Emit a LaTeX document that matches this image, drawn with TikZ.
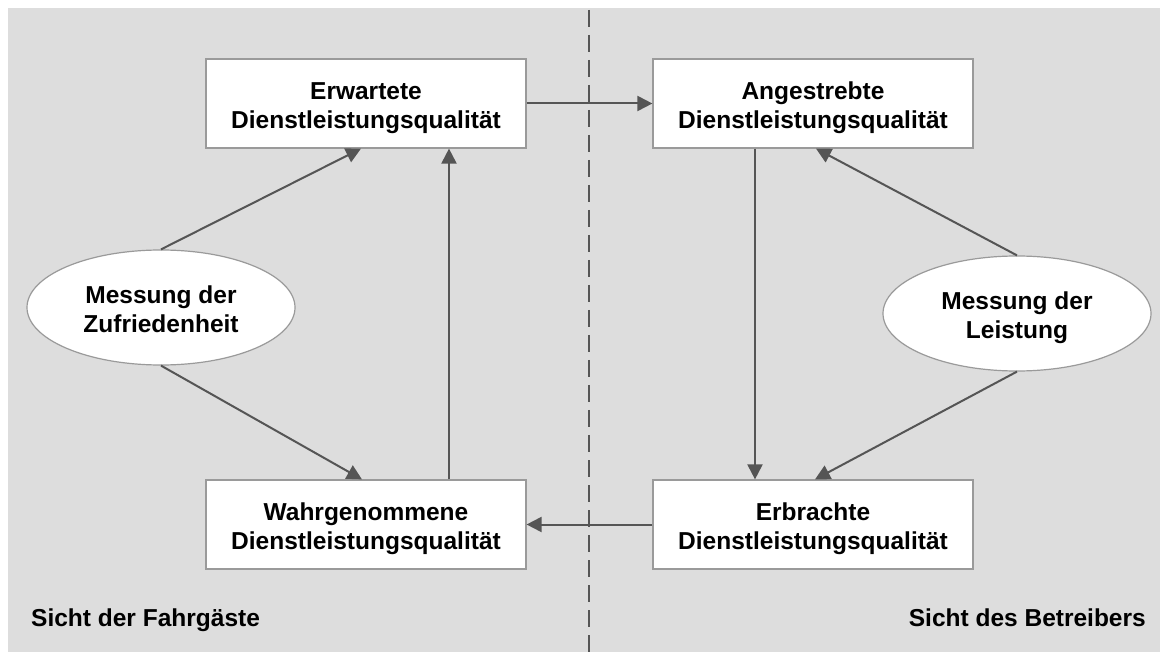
\documentclass[tikz,border=0pt]{standalone}
\usepackage{fontspec}
\setmainfont{Liberation Sans}
\usetikzlibrary{arrows.meta,shapes.geometric}

\definecolor{panel}{HTML}{DDDDDD}
\definecolor{edge}{HTML}{555555}
\definecolor{rim}{HTML}{9A9A9A}

\tikzset{
  % fixed text box so the two-line text sits slightly low in its shape
  lowtext/.style={text height=50pt, text depth=0pt},
  qualbox/.style={draw=rim, line width=1.2pt, fill=white, rectangle,
    minimum width=320pt, minimum height=89pt, inner sep=0pt, lowtext,
    align=center, font=\bfseries\fontsize{24.5}{29}\selectfont},
  measure/.style={draw=rim, line width=1.2pt, fill=white, ellipse,
    minimum width=268pt, minimum height=115pt, inner sep=0pt, lowtext,
    align=center, font=\bfseries\fontsize{24.5}{29}\selectfont},
  sidelabel/.style={inner sep=0pt, font=\bfseries\fontsize{24.5}{29}\selectfont},
  link/.style={draw=edge, line width=2pt,
    -{Triangle[length=15pt,width=15pt]}},
  divider/.style={draw=edge, line width=2pt, dash pattern=on 17pt off 8pt}
}

\begin{document}
\begin{tikzpicture}[x=1pt,y=-1pt]
  \useasboundingbox (0,0) rectangle (1160,652);
  \fill[panel] (8,8) rectangle (1160,652);

  % split between the two points of view
  \coordinate (divtop) at (589,10);
  \coordinate (divbot) at (589,652);
  \draw[divider] (divtop) -- (divbot);

  % quality boxes
  \node[qualbox] (erw) at (366,103.5) {Erwartete\\Dienstleistungsqualität};
  \node[qualbox] (ang) at (813,103.5) {Angestrebte\\Dienstleistungsqualität};
  \node[qualbox] (wah) at (366,524.5) {Wahrgenommene\\Dienstleistungsqualität};
  \node[qualbox] (erb) at (813,524.5) {Erbrachte\\Dienstleistungsqualität};

  % measurements
  \node[measure] (zuf) at (161,307.5) {Messung der\\Zufriedenheit};
  \node[measure] (lei) at (1017,313.5) {Messung der\\Leistung};

  % side captions
  \node[sidelabel, anchor=base west] (fahr) at (31,626) {Sicht der Fahrgäste};
  \node[sidelabel, anchor=base east] (betr) at (1146,626) {Sicht des Betreibers};

  % connectors
  \draw[link] (erw.east) -- (ang.west);
  \draw[link] (erb.west) -- (wah.east);
  \draw[link] (zuf.north) -- ([xshift=-5pt]erw.south);
  \draw[link] (zuf.south) -- ([xshift=-4pt]wah.north);
  \draw[link] ([xshift=83pt]wah.north) -- ([xshift=83pt]erw.south);
  \draw[link] ([xshift=-58pt]ang.south) -- ([xshift=-58pt]erb.north);
  \draw[link] (lei.north) -- ([xshift=3pt]ang.south);
  \draw[link] (lei.south) -- ([xshift=2pt]erb.north);
\end{tikzpicture}
\end{document}
